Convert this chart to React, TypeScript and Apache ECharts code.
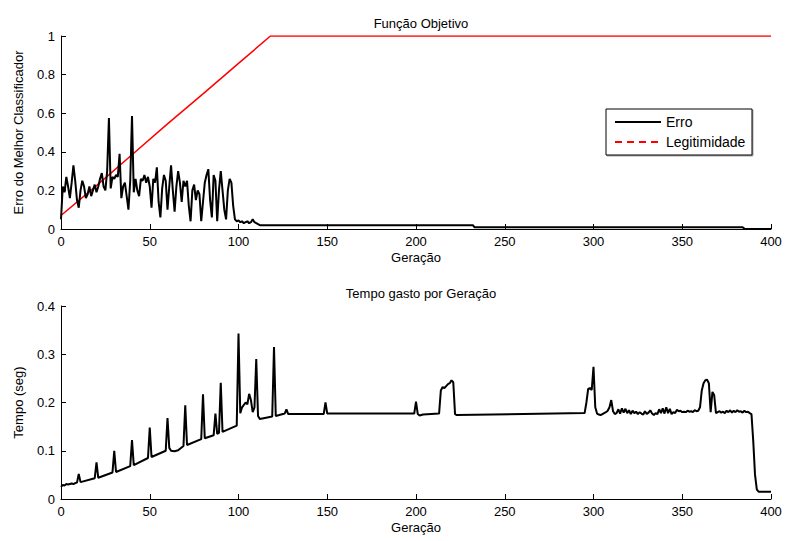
import React, { useEffect, useRef } from "react";
import * as echarts from "echarts";

// ---------- DATA ----------
// Erro do melhor classificador, one value per generation 0..112
const erroInicial = [
  0.05, 0.22, 0.19, 0.27, 0.22, 0.16, 0.24, 0.33, 0.25, 0.15,
  0.11, 0.2, 0.25, 0.22, 0.16, 0.18, 0.22, 0.17, 0.2, 0.23,
  0.19, 0.22, 0.26, 0.29, 0.22, 0.2, 0.3, 0.575, 0.21, 0.27,
  0.26, 0.28, 0.27, 0.39, 0.16, 0.22, 0.24, 0.17, 0.1, 0.25,
  0.585, 0.19, 0.26, 0.2, 0.17, 0.26, 0.25, 0.28, 0.24, 0.27,
  0.22, 0.11, 0.26, 0.24, 0.32, 0.14, 0.06, 0.21, 0.28, 0.25,
  0.1, 0.22, 0.33, 0.2, 0.09, 0.22, 0.3, 0.24, 0.14, 0.25,
  0.22, 0.25, 0.12, 0.04, 0.2, 0.23, 0.15, 0.2, 0.18, 0.04,
  0.14, 0.24, 0.28, 0.31, 0.15, 0.06, 0.28, 0.25, 0.04, 0.2,
  0.3, 0.2, 0.1, 0.05, 0.2, 0.26, 0.24, 0.12, 0.05, 0.04,
  0.045, 0.035, 0.04, 0.03, 0.035, 0.04, 0.03, 0.035, 0.05, 0.035,
  0.03, 0.025, 0.02,
];
// Erro: flat stretches afterwards [generation, value]
const erroPatamares = [
  [232, 0.02], [233, 0.009], [384, 0.009], [385, 0.002], [386, 0], [400, 0],
];
// Legitimidade [generation, value]
const legitimidade = [
  [0, 0.07], [20, 0.225], [40, 0.385], [60, 0.545], [80, 0.7], [100, 0.858], [118, 1], [400, 1],
];
// Tempo gasto por geração [generation, seconds]
const tempoInicio = [
  [0, 0.025], [1, 0.029], [2, 0.028], [3, 0.031], [4, 0.03], [5, 0.031], [6, 0.032], [7, 0.031], [8, 0.033],
  [9, 0.034], [10, 0.052], [11, 0.035],
  [19, 0.043], [20, 0.076], [21, 0.044],
  [29, 0.055], [30, 0.1], [31, 0.056],
  [39, 0.068], [40, 0.122], [41, 0.07],
  [49, 0.085], [50, 0.148], [51, 0.087],
  [59, 0.1], [60, 0.168], [61, 0.106], [62, 0.1], [64, 0.099], [66, 0.101],
  [69, 0.11], [70, 0.194], [71, 0.112],
  [79, 0.124], [80, 0.217], [81, 0.126],
  [86, 0.132], [87, 0.177], [88, 0.135],
  [89, 0.137], [90, 0.241], [91, 0.139],
  [99, 0.152], [100, 0.343], [101, 0.178], [102, 0.19], [104, 0.2], [105, 0.196], [106, 0.218],
  [107, 0.205], [108, 0.18], [109, 0.19], [110, 0.29], [111, 0.172], [112, 0.166],
  [119, 0.171], [120, 0.315], [121, 0.172], [123, 0.174], [125, 0.176],
];
const tempoMeio = [
  [126, 0.177], [127, 0.186], [128, 0.176], [148, 0.176], [149, 0.2], [150, 0.177],
  [199, 0.177], [200, 0.202], [201, 0.176], [202, 0.173], [204, 0.175],
  [213, 0.177], [214, 0.225], [215, 0.232], [216, 0.23], [217, 0.234], [218, 0.238],
  [219, 0.24], [220, 0.246], [221, 0.242], [222, 0.176], [223, 0.174],
  [295, 0.178], [296, 0.2], [297, 0.228], [298, 0.23], [299, 0.226], [300, 0.274],
  [301, 0.19], [302, 0.177],
];
// Tempo, one value per generation 303..389
const tempoRuidosoInicio = 303;
const tempoRuidoso = [
  0.175, 0.174, 0.176, 0.178, 0.18, 0.183, 0.19, 0.205, 0.182, 0.176,
  0.178, 0.186, 0.177, 0.188, 0.179, 0.187, 0.178, 0.184, 0.176, 0.183,
  0.178, 0.181, 0.176, 0.18, 0.177, 0.175, 0.182, 0.176, 0.179, 0.184,
  0.177, 0.174, 0.178, 0.176, 0.186, 0.178, 0.188, 0.177, 0.19, 0.178,
  0.187, 0.176, 0.18, 0.178, 0.185, 0.182, 0.183, 0.18, 0.181, 0.18,
  0.183, 0.181, 0.182, 0.18, 0.184, 0.182, 0.183, 0.19, 0.225, 0.24,
  0.246, 0.247, 0.24, 0.18, 0.222, 0.215, 0.178, 0.18, 0.182, 0.179,
  0.181, 0.178, 0.183, 0.18, 0.184, 0.179, 0.183, 0.18, 0.184, 0.181,
  0.182, 0.179, 0.183, 0.18, 0.181, 0.178, 0.176,
];
const tempoFim = [
  [390, 0.12], [391, 0.05], [392, 0.02], [393, 0.015], [400, 0.015],
];

const legendaNomes = ["Erro", "Legitimidade"];

const xTicks = { min: 0, max: 400, interval: 50 };
const yTicksErro = { min: 0, max: 1, interval: 0.2 };
const yTicksTempo = { min: 0, max: 0.4, interval: 0.1 };

const FONT = "'Liberation Sans', Arial, Helvetica, sans-serif";
const FS = 13;

export default function App() {
  const ref = useRef<HTMLDivElement>(null);

  useEffect(() => {
    if (!ref.current) return;
    const chart = echarts.init(ref.current, undefined, { renderer: "svg" });

    const erroData = erroInicial.map((v, i) => [i, v]).concat(erroPatamares);
    const tempoData = tempoInicio
      .concat(tempoMeio)
      .concat(tempoRuidoso.map((v, i) => [tempoRuidosoInicio + i, v]))
      .concat(tempoFim);

    const axisCommon = {
      axisLine: { show: true, lineStyle: { color: "#000", width: 1 } },
      axisTick: { show: true, inside: true, length: 5, lineStyle: { color: "#000" } },
      axisLabel: { color: "#000", fontSize: FS, fontFamily: FONT, margin: 6 },
      splitLine: { show: false },
      nameTextStyle: { color: "#000", fontSize: FS, fontFamily: FONT },
    };

    const textStyle = (text: string, x: number, y: number) => ({
      type: "text",
      x,
      y,
      style: { text, fill: "#000", fontSize: 14, fontFamily: FONT, verticalAlign: "middle", align: "left" },
    });

    chart.setOption({
      animation: false,
      backgroundColor: "#fff",
      textStyle: { fontFamily: FONT },
      title: [
        {
          text: "Função Objetivo",
          left: 416,
          top: 12,
          textAlign: "center",
          textStyle: { fontSize: FS, fontWeight: "normal", color: "#000", fontFamily: FONT },
        },
        {
          text: "Tempo gasto por Geração",
          left: 416,
          top: 282,
          textAlign: "center",
          textStyle: { fontSize: FS, fontWeight: "normal", color: "#000", fontFamily: FONT },
        },
      ],
      graphic: [
        {
          type: "rect",
          shape: { x: 606, y: 109, width: 146, height: 46 },
          style: { fill: "#fff", stroke: "#000", lineWidth: 1, shadowColor: "rgba(0,0,0,0.35)", shadowOffsetX: 1, shadowOffsetY: 1 },
          z: 100,
        },
        {
          type: "line",
          shape: { x1: 615, y1: 122, x2: 661, y2: 122 },
          style: { stroke: "#000", lineWidth: 2 },
          z: 101,
        },
        {
          type: "line",
          shape: { x1: 615, y1: 142, x2: 661, y2: 142 },
          style: { stroke: "#f00", lineWidth: 2, lineDash: [7, 5] },
          z: 101,
        },
        { ...textStyle(legendaNomes[0], 666, 122), z: 101 },
        { ...textStyle(legendaNomes[1], 666, 142), z: 101 },
      ],
      grid: [
        { left: 61, top: 36, width: 710, height: 193 },
        { left: 61, top: 306, width: 710, height: 193 },
      ],
      xAxis: [
        { ...axisCommon, type: "value", gridIndex: 0, ...xTicks, name: "Geração", nameLocation: "middle", nameGap: 22 },
        { ...axisCommon, type: "value", gridIndex: 1, ...xTicks, name: "Geração", nameLocation: "middle", nameGap: 22 },
      ],
      yAxis: [
        { ...axisCommon, type: "value", gridIndex: 0, ...yTicksErro, name: "Erro do Melhor Classificador", nameLocation: "middle", nameGap: 36 },
        { ...axisCommon, type: "value", gridIndex: 1, ...yTicksTempo, name: "Tempo (seg)", nameLocation: "middle", nameGap: 36 },
      ],
      series: [
        {
          name: legendaNomes[0],
          type: "line",
          xAxisIndex: 0,
          yAxisIndex: 0,
          data: erroData,
          symbol: "none",
          lineStyle: { color: "#000", width: 2 },
          z: 3,
        },
        {
          name: legendaNomes[1],
          type: "line",
          xAxisIndex: 0,
          yAxisIndex: 0,
          data: legitimidade,
          symbol: "none",
          lineStyle: { color: "#f00", width: 1.5 },
          z: 2,
        },
        {
          name: "Tempo",
          type: "line",
          xAxisIndex: 1,
          yAxisIndex: 1,
          data: tempoData,
          symbol: "none",
          lineStyle: { color: "#000", width: 2 },
        },
      ],
    });

    return () => chart.dispose();
  }, []);

  return (
    <div
      ref={ref}
      style={{ position: "fixed", left: 0, top: 0, width: 785, height: 541, background: "#fff" }}
    />
  );
}
